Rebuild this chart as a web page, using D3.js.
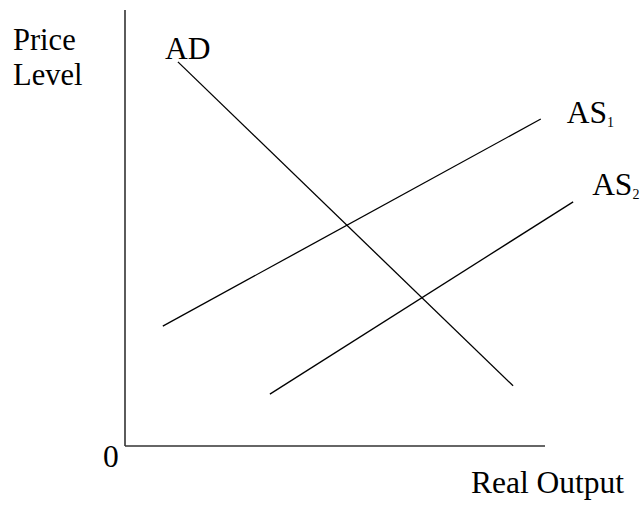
<!DOCTYPE html>
<html lang='en'>
	<head>
		<meta charset='utf-8'>
		<title>AD / AS</title>
		<script type='text/javascript' src='https://cdn.jsdelivr.net/npm/d3@7/dist/d3.min.js'></script>
		<style>
			body { margin: 0; background: #fff; }
			text { font-family: 'Liberation Serif', 'Times New Roman', serif; fill: #000; }
		</style>
	</head>
	<body>
	</body>
	<script type='text/javascript'>
	// curve names, subscripts and their two end points (x, y in 0..100 units)
	var curve_names = ['AD', 'AS', 'AS'];
	var curve_subs = ['', '1', '2'];
	var curve_x = [[12.6, 92.4], [9.0, 99.0], [34.5, 106.7]];
	var curve_y = [[88.1, 13.8], [27.5, 75.0], [11.9, 56.0]];
	var y_title = ['Price', 'Level'];
	var x_title = 'Real Output';
	var origin_label = '0';

	{
		var width = 640, height = 505;
		var ox = 125, oy = 446;
		var fs = '31.5px';

		var svg = d3.select('body').append('svg').attr('width', width).attr('height', height)

		var scale_x = d3.scaleLinear().domain([0, 100]).range([ox, 545]);
		var scale_y = d3.scaleLinear().domain([0, 100]).range([oy, 10]);

		// axes
		svg.append('line').attr('x1', scale_x(0)).attr('y1', scale_y(0)).attr('x2', scale_x(0)).attr('y2', scale_y(100))
			.attr('stroke', '#333').attr('stroke-width', 1.6)
		svg.append('line').attr('x1', scale_x(0)).attr('y1', scale_y(0)).attr('x2', scale_x(100)).attr('y2', scale_y(0))
			.attr('stroke', '#333').attr('stroke-width', 1.6)

		var data = curve_names.map(function(n, i) {
			return {name: n, sub: curve_subs[i], x: curve_x[i], y: curve_y[i]};
		});

		svg.selectAll('.curve').data(data).enter().append('line')
			.attr('class', 'curve')
			.attr('x1', d => scale_x(d.x[0])).attr('y1', d => scale_y(d.y[0]))
			.attr('x2', d => scale_x(d.x[1])).attr('y2', d => scale_y(d.y[1]))
			.attr('stroke', '#000').attr('stroke-width', 1.3)

		// label offsets from the labelled end of each curve
		var lab_end = [0, 1, 1];
		var lab_dx = [-13, 26, 19], lab_dy = [-3, 4, -7];

		var labels = svg.selectAll('.lab').data(data).enter().append('text')
			.attr('class', 'lab')
			.attr('x', (d, i) => scale_x(d.x[lab_end[i]]) + lab_dx[i])
			.attr('y', (d, i) => scale_y(d.y[lab_end[i]]) + lab_dy[i])
			.attr('font-size', fs)
		labels.append('tspan').text(d => d.name)
		labels.append('tspan').text(d => d.sub).attr('font-size', '14px').attr('dy', 4)

		// y title, two lines (a little looser than the reference so they do not touch)
		svg.selectAll('.ytitle').data(y_title).enter().append('text')
			.attr('class', 'ytitle')
			.attr('x', 13).attr('y', (d, i) => 50 + i * 35)
			.attr('font-size', '30.5px')
			.text(d => d)

		svg.append('text').attr('x', 471).attr('y', 493).attr('font-size', fs).text(x_title)
		svg.append('text').attr('x', 103).attr('y', 467).attr('font-size', fs).text(origin_label)
	}
	</script>
</html>
